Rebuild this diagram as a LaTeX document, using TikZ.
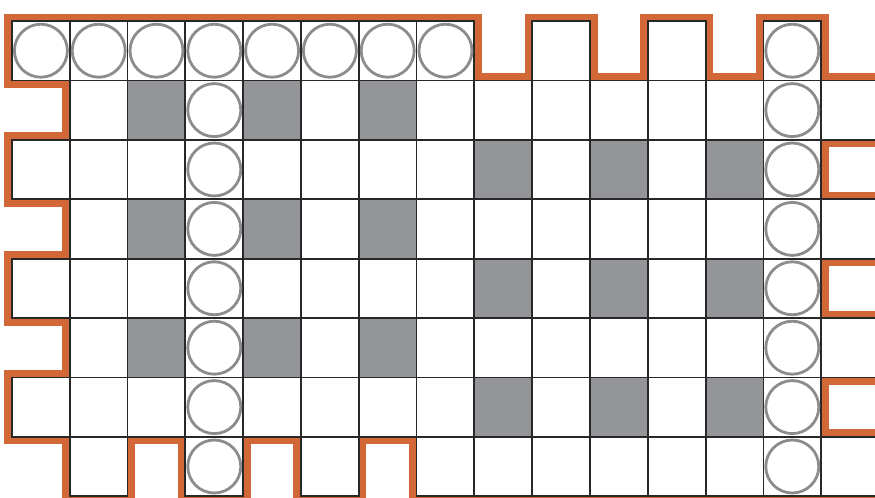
\documentclass[tikz,border=0pt]{standalone}
\usepackage{tikz}

\definecolor{tileorange}{RGB}{210,104,56}
\definecolor{tilegray}{RGB}{147,149,152}
\definecolor{ringgray}{RGB}{140,140,140}
\definecolor{gridline}{RGB}{40,40,40}

\begin{document}
\begin{tikzpicture}[
  x=57.8pt, y=-59.4pt,
  cell/.style = {rectangle, draw=gridline, fill=white, line width=1.8pt, inner sep=0pt, outer sep=0pt,
                 minimum width=57.8pt, minimum height=59.4pt},
  dark/.style = {cell, fill=tilegray},
  ring/.style = {circle, draw=ringgray, fill=white, line width=2.8pt, inner sep=0pt, minimum size=53pt},
  rim/.style  = {draw=tileorange, line width=15pt, line join=miter},
]
  \useasboundingbox (-0.2076,-0.3535) rectangle (14.931,8.0303);
  \clip (-0.2076,-0.3535) rectangle (14.931,8.0303);

  % outline of the tile
  \draw[rim] (0,0) -- (8,0) -- (8,1) -- (9,1) -- (9,0) -- (10,0) -- (10,1) -- (11,1) -- (11,0)
    -- (12,0) -- (12,1) -- (13,1) -- (13,0) -- (14,0) -- (14,1) -- (15,1)
    -- (15,2) -- (14,2) -- (14,3) -- (15,3) -- (15,4) -- (14,4) -- (14,5) -- (15,5)
    -- (15,6) -- (14,6) -- (14,7) -- (15,7) -- (15,8)
    -- (7,8) -- (7,7) -- (6,7) -- (6,8) -- (5,8) -- (5,7) -- (4,7) -- (4,8) -- (3,8)
    -- (3,7) -- (2,7) -- (2,8) -- (1,8) -- (1,7) -- (0,7)
    -- (0,6) -- (1,6) -- (1,5) -- (0,5) -- (0,4) -- (1,4) -- (1,3) -- (0,3)
    -- (0,2) -- (1,2) -- (1,1) -- (0,1) -- cycle;

  % squares
  \foreach \c in {1,...,13}
    \foreach \r in {1,...,6}
      \node[cell] (sq-\c-\r) at (\c+.5,\r+.5) {};
  \foreach \c in {0,...,7,9,11,13}
    \node[cell] (sq-\c-0) at (\c+.5,.5) {};
  \foreach \r in {2,4,6}
    \node[cell] (sq-0-\r) at (.5,\r+.5) {};
  \foreach \r in {1,3,5,7}
    \node[cell] (sq-14-\r) at (14.5,\r+.5) {};
  \foreach \c in {1,3,5,7,8,...,13}
    \node[cell] (sq-\c-7) at (\c+.5,7.5) {};

  % shaded squares
  \foreach \r in {1,3,5}
    \foreach \c in {2,4,6}
      \node[dark] (sh-\c-\r) at (sq-\c-\r) {};
  \foreach \r in {2,4,6}
    \foreach \c in {8,10,12}
      \node[dark] (sh-\c-\r) at (sq-\c-\r) {};

  % rings
  \foreach \c in {0,...,7,13}
    \node[ring] (ring-\c-0) at (sq-\c-0) {};
  \foreach \r in {1,...,7} {
    \node[ring] (ring-3-\r)  at (sq-3-\r)  {};
    \node[ring] (ring-13-\r) at (sq-13-\r) {};
  }
\end{tikzpicture}
\end{document}
